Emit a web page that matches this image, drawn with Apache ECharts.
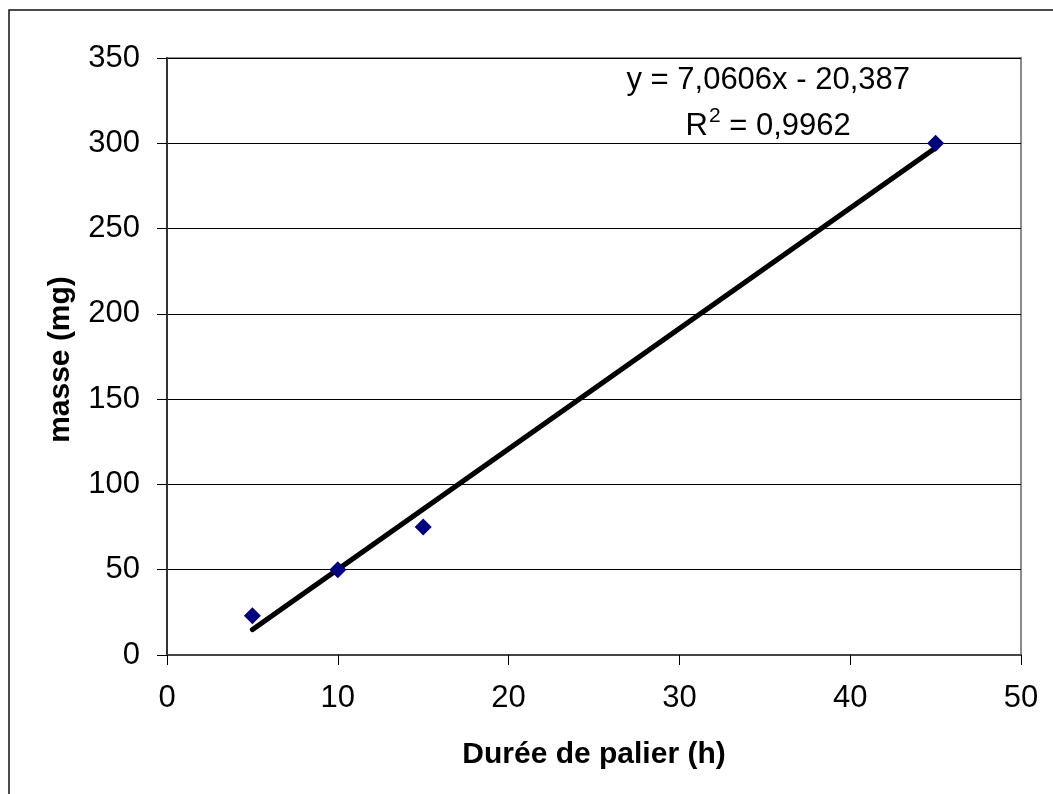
<!DOCTYPE html>
<html>
<head>
<meta charset="utf-8">
<script src="https://cdn.jsdelivr.net/npm/echarts@6/dist/echarts.min.js"></script>
<style>html,body{margin:0;padding:0;background:#fff;}#main{width:1053px;height:794px;}</style>
</head>
<body>
<div id="main"></div>
<script>
// Data
var durations = [5, 10, 15, 45];
var masses = [23, 50, 75, 300];
var trendX = [5, 45];
var trendY = [14.9, 297.3];
var yTicks = [0, 50, 100, 150, 200, 250, 300, 350];
var xTicks = [0, 10, 20, 30, 40, 50];
var xTitle = 'Durée de palier (h)';
var yTitle = 'masse (mg)';
var equationText = 'y = 7,0606x - 20,387';
var r2Text = '0,9962';

var FONT = '"Liberation Sans", Arial, sans-serif';
var chart = echarts.init(document.getElementById('main'));

var option = {
  backgroundColor: '#ffffff',
  animation: false,
  grid: {
    left: 167, top: 58, right: 32, bottom: 139,
    show: true, borderColor: '#8c8c8c', borderWidth: 2, backgroundColor: 'transparent'
  },
  xAxis: {
    type: 'value', min: xTicks[0], max: xTicks[xTicks.length - 1], interval: 10,
    name: xTitle, nameLocation: 'middle', nameGap: 85,
    nameTextStyle: { fontFamily: FONT, fontSize: 30, fontWeight: 'bold', color: '#000' },
    axisLine: { show: true, lineStyle: { color: '#444', width: 2 } },
    axisTick: { show: true, inside: false, length: 10, lineStyle: { color: '#000', width: 1 } },
    axisLabel: { fontFamily: FONT, fontSize: 31, color: '#000', margin: 28 },
    splitLine: { show: false }
  },
  yAxis: {
    type: 'value', min: yTicks[0], max: yTicks[yTicks.length - 1], interval: 50,
    axisLine: { show: true, lineStyle: { color: '#333', width: 2 } },
    axisTick: { show: true, inside: false, length: 10, lineStyle: { color: '#000', width: 1 } },
    axisLabel: { fontFamily: FONT, fontSize: 31, color: '#000', margin: 27 },
    splitLine: { show: true, lineStyle: { color: '#000', width: 1 } }
  },
  series: [
    {
      type: 'line',
      data: trendX.map(function (x, i) { return [x, trendY[i]]; }),
      showSymbol: false, symbol: 'none',
      lineStyle: { color: '#000', width: 5, cap: 'round' },
      z: 3
    },
    {
      type: 'scatter',
      data: durations.map(function (x, i) { return [x, masses[i]]; }),
      symbol: 'diamond', symbolSize: 17,
      itemStyle: { color: '#000080', opacity: 1 },
      z: 4
    }
  ]
};
chart.setOption(option);

var p1 = chart.convertToPixel({ gridIndex: 0 }, [35.2, 337]);
var p2 = chart.convertToPixel({ gridIndex: 0 }, [35.2, 311.3]);
var yMid = chart.convertToPixel({ gridIndex: 0 }, [0, (yTicks[0] + yTicks[yTicks.length - 1]) / 2]);
chart.setOption({
  graphic: [
    {
      type: 'rect', silent: true, z: 100,
      shape: { x: 9, y: 10, width: 1200, height: 1000 },
      style: { fill: 'none', stroke: '#111', lineWidth: 1.5 }
    },
    {
      type: 'text', x: 61, y: yMid[1] + 3, rotation: Math.PI / 2, z: 100,
      style: { text: yTitle, font: 'bold 30px ' + FONT, fill: '#000', align: 'center', verticalAlign: 'middle' }
    },
    {
      type: 'text', x: p1[0], y: p1[1], z: 100,
      style: { text: equationText, font: '31px ' + FONT, fill: '#000', align: 'center', verticalAlign: 'middle' }
    },
    {
      type: 'text', x: p2[0], y: p2[1], z: 100,
      style: {
        text: '{b|R}{s|2}{b| = ' + r2Text + '}', align: 'center', verticalAlign: 'middle',
        rich: {
          b: { fontFamily: FONT, fontSize: 31, fill: '#000', lineHeight: 36, verticalAlign: 'bottom' },
          s: { fontFamily: FONT, fontSize: 21, fill: '#000', lineHeight: 36, verticalAlign: 'top', padding: [0, 0, 0, 1] }
        }
      }
    }
  ]
});
</script>
</body>
</html>
